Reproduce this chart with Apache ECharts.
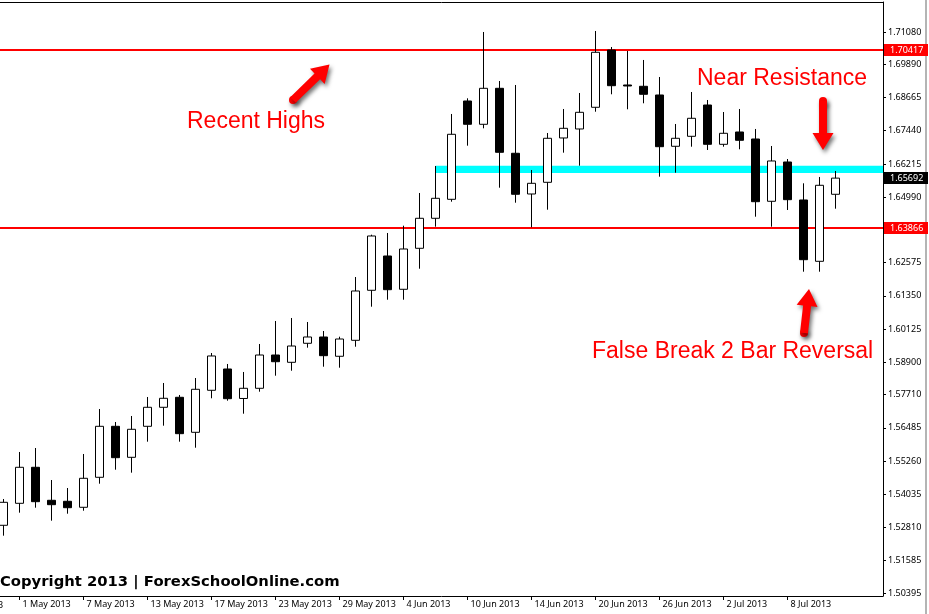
<!DOCTYPE html>
<html><head><meta charset="utf-8">
<script src="https://cdn.jsdelivr.net/npm/echarts@6/dist/echarts.min.js"></script>
<style>html,body{margin:0;padding:0;background:#fff;}#c{width:929px;height:614px;}</style>
</head><body><div id="c"></div>
<script>
// ---- data ----
const dates = ['30 Apr 2013','1 May 2013','2 May 2013','3 May 2013','6 May 2013','7 May 2013','8 May 2013','9 May 2013','10 May 2013','13 May 2013',
'14 May 2013','15 May 2013','16 May 2013','17 May 2013','20 May 2013','21 May 2013','22 May 2013','23 May 2013','24 May 2013','27 May 2013',
'28 May 2013','29 May 2013','30 May 2013','31 May 2013','3 Jun 2013','4 Jun 2013','5 Jun 2013','6 Jun 2013','7 Jun 2013','10 Jun 2013',
'11 Jun 2013','12 Jun 2013','13 Jun 2013','14 Jun 2013','17 Jun 2013','18 Jun 2013','19 Jun 2013','20 Jun 2013','21 Jun 2013','24 Jun 2013',
'25 Jun 2013','26 Jun 2013','27 Jun 2013','28 Jun 2013','1 Jul 2013','2 Jul 2013','3 Jul 2013','4 Jul 2013','5 Jul 2013','8 Jul 2013',
'9 Jul 2013','10 Jul 2013','11 Jul 2013'];
const open = [1.52891,1.53702,1.55030,1.53813,1.53776,1.53555,1.54661,1.56541,1.55398,1.56541,
1.57242,1.57611,1.56320,1.57869,1.58654,1.57567,1.57943,1.59170,1.58901,1.59602,
1.59834,1.59123,1.59712,1.61556,1.62821,1.61593,1.63105,1.64211,1.64911,1.68536,
1.67677,1.69004,1.66608,1.65107,1.65538,1.67172,1.67504,1.68304,1.70416,1.69126,
1.69078,1.68757,1.66866,1.67234,1.68388,1.66939,1.67393,1.67135,1.64838,1.66287,
1.64886,1.62625,1.65096];
const close = [1.53739,1.55030,1.53762,1.53651,1.53540,1.54624,1.56541,1.55384,1.56431,1.57242,
1.57574,1.56269,1.57906,1.59134,1.57559,1.57943,1.59170,1.58923,1.59502,1.59834,
1.59145,1.59760,1.61530,1.63558,1.61578,1.63079,1.64211,1.64948,1.67308,1.67677,
1.69004,1.66644,1.65096,1.65501,1.67161,1.67529,1.68119,1.70332,1.69100,1.69089,
1.68783,1.66851,1.67161,1.67898,1.66939,1.67345,1.67087,1.64823,1.66324,1.64897,
1.62684,1.65428,1.65692];
const low = [1.52508,1.53356,1.53540,1.53061,1.53319,1.53429,1.54425,1.54941,1.54831,1.55974,
1.56564,1.55974,1.55752,1.57574,1.57485,1.57006,1.57817,1.58407,1.58591,1.59440,
1.58739,1.58702,1.59476,1.60951,1.61209,1.61209,1.62352,1.63901,1.64823,1.66888,
1.67529,1.65339,1.64786,1.63879,1.64528,1.66630,1.66150,1.68141,1.68783,1.68230,
1.68451,1.65745,1.65892,1.66851,1.66729,1.66851,1.66755,1.64270,1.63901,1.64517,
1.62242,1.62242,1.64565];
const high = [1.53861,1.55594,1.55741,1.54561,1.54266,1.55520,1.57179,1.56700,1.56921,1.57622,
1.58138,1.57696,1.58322,1.59244,1.58839,1.58544,1.59576,1.60424,1.60535,1.60387,
1.60055,1.59845,1.62046,1.63606,1.63669,1.63938,1.65144,1.66139,1.68057,1.68635,
1.71080,1.69273,1.69126,1.65992,1.67356,1.68241,1.68831,1.71117,1.70527,1.70380,
1.70048,1.69421,1.67688,1.68868,1.68573,1.68130,1.68241,1.67504,1.66877,1.66397,
1.65501,1.65734,1.65955];
const xTickIndex = [-3,1,5,9,13,17,21,25,29,33,37,41,45,49];
const xTickLabels = ['25 Apr 2013','1 May 2013','7 May 2013','13 May 2013','17 May 2013','23 May 2013','29 May 2013','4 Jun 2013','10 Jun 2013','14 Jun 2013','20 Jun 2013','26 Jun 2013','2 Jul 2013','8 Jul 2013'];
const yTicks = [1.71080,1.69890,1.68665,1.67440,1.66215,1.64990,1.63765,1.62575,1.61350,1.60125,1.58900,1.57710,1.56485,1.55260,1.54035,1.52810,1.51585,1.50395];
const resistanceLevels = [1.70417, 1.63866];
const zoneLevels = [1.65880, 1.66150];
const zoneStartIndex = 27;
const lastPrice = 1.65692;
const annotations = ['Recent Highs', 'Near Resistance', 'False Break 2 Bar Reversal'];
const copyrightText = 'Copyright 2013 | ForexSchoolOnline.com';

// ---- chart ----
const X_MIN = -0.21875, X_MAX = 54.96875;
const Y_MIN = 1.50284, Y_MAX = 1.72186;
const candles = dates.map((d, i) => [i, open[i], close[i], low[i], high[i]]);
const axisFont = 'Noto Sans';

const chart = echarts.init(document.getElementById('c'), null, {renderer: 'canvas'});
chart.setOption({
  animation: false,
  backgroundColor: '#ffffff',
  grid: {left: 0, right: 46, top: 2, bottom: 18, containLabel: false},
  xAxis: [{
    type: 'value', min: X_MIN, max: X_MAX, position: 'bottom',
    splitLine: {show: false},
    axisLine: {show: true, onZero: false, lineStyle: {color: '#000', width: 1}},
    axisTick: {show: true, length: 4, customValues: xTickIndex.filter(v => v >= 0), lineStyle: {color: '#000'}},
    axisLabel: {
      show: true, customValues: xTickIndex.filter(v => v >= 0), align: 'left', margin: 4,
      padding: [0, 0, 0, 3], color: '#000', fontFamily: axisFont, fontSize: 9,
      formatter: v => { const k = xTickIndex.indexOf(Math.round(v)); return k >= 0 ? xTickLabels[k] : ''; }
    }
  }, {
    type: 'value', min: X_MIN, max: X_MAX, position: 'top',
    splitLine: {show: false}, axisTick: {show: false}, axisLabel: {show: false},
    axisLine: {show: true, onZero: false, lineStyle: {color: '#000', width: 1}}
  }],
  yAxis: {
    type: 'value', min: Y_MIN, max: Y_MAX, position: 'right', scale: true,
    splitLine: {show: false},
    axisLine: {show: true, onZero: false, lineStyle: {color: '#000', width: 1}},
    axisTick: {show: true, inside: false, length: 3, customValues: yTicks, lineStyle: {color: '#000'}},
    axisLabel: {
      show: true, customValues: yTicks, margin: 5, color: '#000', fontFamily: axisFont, fontSize: 9,
      formatter: v => v.toFixed(5)
    }
  },
  series: [{
    type: 'candlestick',
    z: 3,
    data: candles,
    encode: {x: 0, y: [1, 2, 3, 4]},
    barWidth: 9,
    itemStyle: {color: '#ffffff', color0: '#000000', borderColor: '#000000', borderColor0: '#000000', borderWidth: 1},
    markLine: {
      z: 1, silent: true, precision: 5, symbol: ['none', 'none'], label: {show: false},
      lineStyle: {color: '#ff0000', width: 2, type: 'solid'},
      data: resistanceLevels.map(v => ({yAxis: v}))
    },
    markArea: {
      z: 1, silent: true, precision: 5, label: {show: false},
      itemStyle: {color: '#00ffff', opacity: 1},
      data: [[{coord: [zoneStartIndex, zoneLevels[1]]}, {coord: [X_MAX, zoneLevels[0]]}]]
    }
  }]
});

function arrowPts(x1, y1, x2, y2, sw, hw, hl) {
  const dx = x2 - x1, dy = y2 - y1, L = Math.hypot(dx, dy);
  const ux = dx / L, uy = dy / L, px = -uy, py = ux;
  const bx = x2 - ux * hl, by = y2 - uy * hl;
  return [[x1 + px * sw, y1 + py * sw], [bx + px * sw, by + py * sw], [bx + px * hw, by + py * hw], [x2, y2],
          [bx - px * hw, by - py * hw], [bx - px * sw, by - py * sw], [x1 - px * sw, y1 - py * sw]];
}
function arrow(x1, y1, x2, y2) {
  const st = {fill: '#ff0000', shadowColor: 'rgba(0,0,0,0.55)', shadowBlur: 4, shadowOffsetX: 2, shadowOffsetY: 3};
  return [
    {type: 'circle', z: 50, shape: {cx: x1, cy: y1, r: 4}, style: st},
    {type: 'polygon', z: 51, shape: {points: arrowPts(x1, y1, x2, y2, 4, 10.5, 17)}, style: st}
  ];
}

const yOf = v => chart.convertToPixel({yAxisIndex: 0}, v);
const xOf = v => chart.convertToPixel({xAxisIndex: 0}, v);
const tag = (v, bg) => {
  const y = Math.round(yOf(v));
  return [
    {type: 'rect', z: 100, shape: {x: 884, y: y - 6, width: 44, height: 12}, style: {fill: bg}},
    {type: 'text', z: 101, x: 890, y: y, style: {text: v.toFixed(5), fill: '#fff', font: '9px "Noto Sans"', textVerticalAlign: 'middle', textAlign: 'left'}}
  ];
};
const annFont = '23px "Liberation Sans"';
chart.setOption({
  graphic: [
    ...tag(resistanceLevels[0], '#ff0000'),
    ...tag(lastPrice, '#000000'),
    ...tag(resistanceLevels[1], '#ff0000'),
    {type: 'text', z: 20, x: xOf(xTickIndex[0]) - 3, y: 605, style: {text: xTickLabels[0], fill: '#000', font: '9px "Noto Sans"', textVerticalAlign: 'middle'}},
    {type: 'text', z: 60, x: 187, y: 122, style: {text: annotations[0], fill: '#ff0000', font: annFont, textVerticalAlign: 'middle'}},
    {type: 'text', z: 60, x: 697, y: 79, style: {text: annotations[1], fill: '#ff0000', font: annFont, textVerticalAlign: 'middle'}},
    {type: 'text', z: 60, x: 592, y: 352, style: {text: annotations[2], fill: '#ff0000', font: annFont, textVerticalAlign: 'middle'}},
    {type: 'text', z: 60, x: 0, y: 582.5, style: {text: copyrightText, fill: '#000', font: 'bold 14.8px "DejaVu Sans"', textVerticalAlign: 'middle'}},
    ...arrow(293, 100, 329.5, 64.5),
    ...arrow(823, 101, 823, 150),
    ...arrow(804, 333, 809, 289),
    {type: 'rect', z: 5, shape: {x: 925, y: 0, width: 2, height: 614}, style: {fill: '#b4b4b4'}}
  ]
});
</script></body></html>
